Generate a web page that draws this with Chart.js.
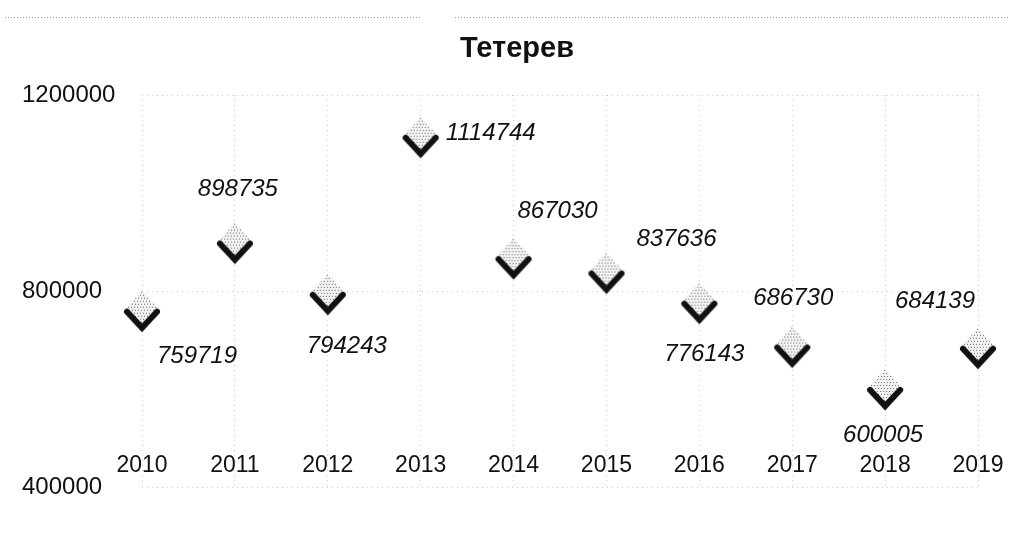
<!DOCTYPE html>
<html>
<head>
<meta charset="utf-8">
<script src="https://cdn.jsdelivr.net/npm/chart.js@4/dist/chart.umd.min.js"></script>
<style>
  html, body { margin: 0; padding: 0; background: #fff; }
  #wrap { width: 1016px; height: 537px; position: relative; }
</style>
</head>
<body>
<div id="wrap"><canvas id="c" width="1016" height="537"></canvas></div>
<script>
const chartTitle = 'Тетерев';
const years = ['2010', '2011', '2012', '2013', '2014', '2015', '2016', '2017', '2018', '2019'];
const counts = [759719, 898735, 794243, 1114744, 867030, 837636, 776143, 686730, 600005, 684139];
const yTicks = [400000, 800000, 1200000];

// label placement offsets (style only, px relative to marker)
const labelOffsets = [[55, 46], [3, -53], [19, 53], [70, -3], [44, -47], [70, -33], [5, 52], [1, -48], [-2, 46], [-43, -46]];

const FONT = '"Liberation Sans", Arial, sans-serif';

function makeMarker() {
  const w = 40, h = 44, c = document.createElement('canvas');
  c.width = w; c.height = h;
  const g = c.getContext('2d');
  const cx = w / 2, cy = h / 2, rx = 18, ry = 20;
  g.save();
  g.beginPath();
  g.moveTo(cx, cy - ry); g.lineTo(cx + rx, cy); g.lineTo(cx, cy + ry); g.lineTo(cx - rx, cy); g.closePath();
  g.clip();
  g.fillStyle = '#f2f2f2';
  g.fillRect(0, 0, w, h);
  g.fillStyle = '#6a6a6a';
  for (let y = 0; y < h; y += 3) {
    for (let x = (y / 3) % 2 ? 1 : 0; x < w; x += 3) g.fillRect(x, y, 1, 1);
  }
  g.restore();
  g.strokeStyle = '#111';
  g.lineWidth = 6;
  g.lineCap = 'round';
  g.lineJoin = 'miter';
  g.beginPath();
  g.moveTo(cx - rx + 3, cy + 1);
  g.lineTo(cx, cy + ry - 3);
  g.lineTo(cx + rx - 3, cy + 1);
  g.stroke();
  return c;
}
const marker = makeMarker();

const labelPlugin = {
  id: 'valueLabels',
  afterDatasetsDraw(chart) {
    const ctx = chart.ctx;
    const meta = chart.getDatasetMeta(0);
    ctx.save();
    ctx.font = 'italic 24px ' + FONT;
    ctx.fillStyle = '#111';
    ctx.textAlign = 'center';
    ctx.textBaseline = 'middle';
    meta.data.forEach((pt, i) => {
      const o = labelOffsets[i];
      ctx.fillText(String(counts[i]), pt.x + o[0], pt.y + o[1]);
    });
    ctx.restore();
  }
};

const titlePlugin = {
  id: 'chartTitleText',
  afterDraw(chart) {
    const ctx = chart.ctx;
    ctx.save();
    ctx.font = 'bold 29px ' + FONT;
    ctx.fillStyle = '#111';
    ctx.textAlign = 'center';
    ctx.textBaseline = 'middle';
    ctx.fillText(chartTitle, 517, 49);
    ctx.restore();
  }
};

const topLinePlugin = {
  id: 'topLine',
  beforeDraw(chart) {
    const ctx = chart.ctx;
    ctx.save();
    ctx.strokeStyle = '#999';
    ctx.setLineDash([1, 2]);
    ctx.lineWidth = 1;
    ctx.beginPath();
    ctx.moveTo(5, 17.5); ctx.lineTo(420, 17.5);
    ctx.moveTo(455, 17.5); ctx.lineTo(1010, 17.5);
    ctx.stroke();
    ctx.restore();
  }
};

new Chart(document.getElementById('c'), {
  type: 'line',
  data: {
    labels: years,
    datasets: [{
      data: counts,
      showLine: false,
      pointStyle: marker,
      pointRadius: 18,
      pointHoverRadius: 18
    }]
  },
  options: {
    responsive: false,
    animation: false,
    events: [],
    layout: { padding: { left: 22, right: 38, top: 95, bottom: 20 } },
    plugins: {
      legend: { display: false },
      tooltip: { enabled: false },
      title: { display: false }
    },
    scales: {
      x: {
        type: 'category',
        offset: false,
        border: { display: false, dash: [1, 4] },
        grid: { color: '#cdcdcd', lineWidth: 1, drawTicks: false },
        ticks: {
          color: '#111',
          mirror: true,
          padding: 8,
          maxRotation: 0,
          autoSkip: false,
          font: { family: FONT, size: 23 }
        },
        afterFit(scale) { scale.height = 30; }
      },
      y: {
        min: 400000,
        max: 1200000,
        border: { display: false, dash: [1, 4] },
        grid: { color: '#cdcdcd', lineWidth: 1, drawTicks: false },
        afterBuildTicks(scale) { scale.ticks = yTicks.map(v => ({ value: v })); },
        ticks: {
          color: '#111',
          crossAlign: 'far',
          font: { family: FONT, size: 24 },
          callback: v => String(v)
        },
        afterFit(scale) { scale.width = 120; }
      }
    }
  },
  plugins: [labelPlugin, titlePlugin, topLinePlugin]
});
</script>
</body>
</html>
